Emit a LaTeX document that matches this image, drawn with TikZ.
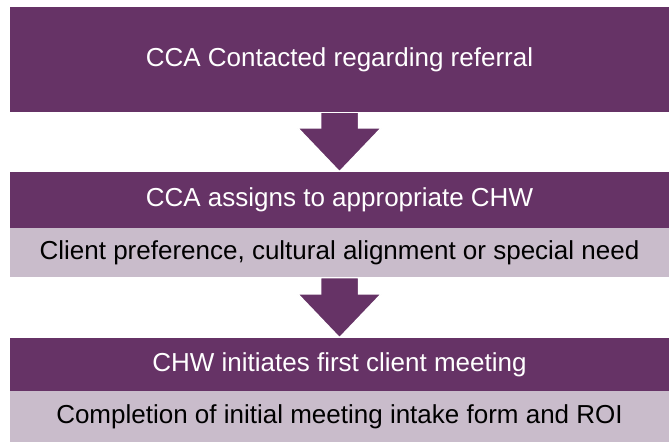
\documentclass[tikz,border=0pt]{standalone}
\usepackage{fontspec}
\setmainfont{Liberation Sans}
\usetikzlibrary{positioning, calc, backgrounds}
\definecolor{cPurple}{RGB}{102,51,102}
\definecolor{cLavender}{RGB}{201,188,203}
\tikzset{
	headbox/.style={rectangle, fill=cPurple, text=white, minimum width=659pt, inner sep=0pt},
	subbox/.style ={rectangle, fill=cLavender, text=black, minimum width=659pt, inner sep=0pt},
	downarrow/.style={fill=cPurple, draw=white, line width=1.5pt, line join=miter},
}

\begin{document}
\begin{tikzpicture}[x=1pt, y=-1pt, font=\fontsize{26}{31}\selectfont]
	\useasboundingbox (0,0) rectangle (672,442);
	\node[headbox, minimum height=105pt] (cca) at (339.5,59.5) {CCA Contacted regarding referral};
	\node[headbox, minimum height=56pt] (assign) at (339.5,200) {CCA assigns to appropriate CHW};
	\node[subbox, minimum height=49pt, below=0pt of assign] (pref) {Client preference, cultural alignment or special need};
	\node[headbox, minimum height=53pt] (meet) at (339.5,364.5) {CHW initiates first client meeting};
	\node[subbox, minimum height=51pt, below=0pt of meet] (intake) {Completion of initial meeting intake form and ROI};
	% block arrows between the steps
	\begin{scope}[on background layer]
		\foreach \from/\to in {cca/assign, pref/meet} {
			\path[downarrow] (\from.south) ++(-19,0) -- ($(\to.north)+(-19,-44)$) -- ++(-23,0) -- (\to.north)
				-- ++(42,-44) -- ++(-23,0) -- ($(\from.south)+(19,0)$) -- cycle;
		}
	\end{scope}
\end{tikzpicture}
\end{document}
